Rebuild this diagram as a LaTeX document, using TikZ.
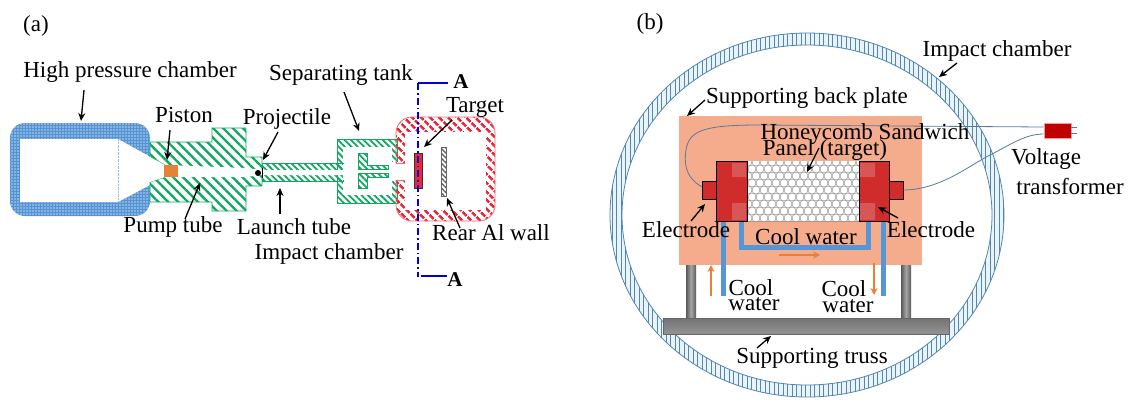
\documentclass[tikz,border=0pt]{standalone}
\usepackage{fontspec}
\setmainfont{Liberation Serif}
\usetikzlibrary{arrows.meta,patterns.meta}
\definecolor{Chamber_blue}{RGB}{84, 148, 212}
\definecolor{Tube_green}{RGB}{16, 168, 96}
\definecolor{Wall_red}{RGB}{236, 40, 56}
\definecolor{Ring_blue}{RGB}{84, 134, 178}
\definecolor{Ring_pale}{RGB}{232, 243, 250}
\definecolor{Plate_salmon}{RGB}{244, 172, 140}
\definecolor{Electrode_red}{RGB}{208, 44, 44}
\definecolor{Pipe_blue}{RGB}{84, 150, 214}
\definecolor{Flow_orange}{RGB}{232, 128, 56}
\definecolor{Wire_slate}{RGB}{88, 122, 160}
\tikzset{
    leader/.style={line width=1.3pt, -{Stealth[length=8pt,width=7pt]}},
    flow/.style={Flow_orange, line width=1.2pt, -{Stealth[length=7pt,width=7pt]}},
    lbl/.style={inner sep=0pt, font=\fontsize{23}{24}\selectfont},
    tube hatch/.style={draw=Tube_green, line width=0.8pt, pattern={Lines[angle=-45,distance=7pt,line width=2.3pt]}, pattern color=Tube_green},
    tank hatch/.style={draw=Tube_green, line width=0.8pt, pattern={Lines[angle=-45,distance=4.5pt,line width=1.8pt]}, pattern color=Tube_green},
    wall hatch/.style={draw=Wall_red!70, line width=0.8pt, pattern={Lines[angle=-45,distance=6.5pt,line width=2.7pt]}, pattern color=Wall_red},
    wire/.style={Wire_slate, line width=0.8pt},
    pipe/.style={Pipe_blue, line width=5pt}
}
\begin{document}
\begin{tikzpicture}[x=1pt,y=-1pt]
    \useasboundingbox (0,0) rectangle (1132,400);

    %% (a) High pressure chamber
    \fill[Chamber_blue, rounded corners=15pt] (10,123) rectangle (150,216);
    \fill[pattern={Dots[distance=3pt,radius=0.8pt]}, pattern color=white!60!Chamber_blue, rounded corners=15pt] (10,123) rectangle (150,216);
    \fill[white] (20,139) -- (118,139) -- (165,165) -- (165,177) -- (118,202) -- (20,202) -- cycle;
    \draw[Chamber_blue!60, densely dotted] (118,139) -- (118,202);

    %% Separating tank
    \draw[tank hatch] (337,139) rectangle (397,203);
    \fill[white] (343,147) rectangle (392,195);
    \fill[white] (391,162) rectangle (398,181);
    \draw[tank hatch] (358,153) -- (367,153) -- (367,165) -- (388,165) -- (388,169) -- (358,169) -- cycle;
    \draw[tank hatch] (358,188) -- (367,188) -- (367,177) -- (388,177) -- (388,173) -- (358,173) -- cycle;

    %% Pump tube and launch tube
    \draw[tube hatch] (150,142) -- (212,142) -- (212,128) -- (246,128) -- (246,157) -- (262,157) -- (262,186) -- (246,186) -- (246,211) -- (212,211) -- (212,202) -- (150,202) -- (150,182) -- (165,177) -- (165,165) -- (150,157) -- cycle;
    \draw[tank hatch] (262,163) rectangle (343,181);
    \fill[white] (150,157) -- (165,165) -- (246,168) -- (262,170) -- (345,170) -- (345,175) -- (262,175) -- (246,177) -- (165,177) -- (150,182) -- cycle;
    \fill[white] (343,164) rectangle (345,180);

    %% Impact chamber
    \draw[wall hatch, rounded corners=16pt] (396,117) rectangle (495,221);
    \fill[white] (405,132) rectangle (486,210);
    \fill[white] (394,163) rectangle (406,180);
    \draw[Wall_red!70, line width=0.8pt] (396,163) -- (405,163) (396,180) -- (405,180);
    \fill[Wall_red] (414,153) rectangle (422,188);
    \draw[black!80, line width=0.8pt] (414,153) rectangle (422,188);
    \draw[black!60, line width=0.6pt, pattern={Lines[angle=-45,distance=3.5pt,line width=1.4pt]}, pattern color=black!60] (441,147) rectangle (446,196);
    \fill[Flow_orange] (164,165) rectangle (178,177);
    \fill (258,173) circle (3pt);
    \draw[thick] (262,168) -- (262,178);

    %% Section line
    \draw[blue!85!black, line width=1.1pt, dash pattern=on 7pt off 3pt on 1.5pt off 3pt] (418,83) -- (418,277);
    \draw[blue!85!black, line width=1.1pt] (418,83) -- (448,83) (421,276) -- (447,276);
    \node[lbl, font=\fontsize{21}{22}\selectfont\bfseries] (sec top) at (461,82) {A};
    \node[lbl, font=\fontsize{21}{22}\selectfont\bfseries] (sec bot) at (455,280) {A};

    %% (b) Impact chamber ring
    \draw[Ring_blue, line width=0.8pt, fill=Ring_pale, even odd rule] (807,215) ellipse [x radius=197, y radius=182] (807,215) ellipse [x radius=185, y radius=170];
    \path[even odd rule, pattern={Lines[angle=90,distance=4.5pt,line width=0.6pt]}, pattern color=Ring_blue] (807,215) ellipse [x radius=197, y radius=182] (807,215) ellipse [x radius=185, y radius=170];

    %% Truss and legs
    \shade[left color=black!65, right color=black!65, middle color=black!35] (686,265) rectangle (696,318);
    \shade[left color=black!65, right color=black!65, middle color=black!35] (901,265) rectangle (911,318);
    \shade[top color=black!55, bottom color=black!42] (663,318) rectangle (949,334);
    \draw[black!60] (663,318) rectangle (949,334);

    %% Back plate
    \fill[Plate_salmon] (679,116) rectangle (922,265);

    %% Pipes
    \draw[pipe] (723,220) -- (723,296);
    \draw[pipe] (883,220) -- (883,296);
    \draw[pipe] (741,220) -- (741,247) -- (868,247) -- (868,220);

    %% Honeycomb
    \fill[white] (747,161) rectangle (859,221);
    \begin{scope}
        \clip (747,161) rectangle (859,221);
        \foreach \i in {0,...,14}
            \foreach \j in {0,...,4}{
                \draw[black!50, line width=0.4pt] ({748+8*\i},{162+14*\j}) circle (4pt);
                \draw[black!50, line width=0.4pt] ({752+8*\i},{169+14*\j}) circle (4pt);
            }
    \end{scope}

    %% Electrodes
    \draw[fill=Electrode_red, line width=0.8pt] (702,181) rectangle (716,199);
    \draw[fill=Electrode_red, line width=0.8pt] (716,161) rectangle (747,221);
    \draw[fill=Electrode_red, line width=0.8pt] (889,181) rectangle (903,199);
    \draw[fill=Electrode_red, line width=0.8pt] (859,161) rectangle (889,221);
    \fill[white, opacity=0.2] (732,163) rectangle (746,177) (732,203) rectangle (746,220);
    \fill[white, opacity=0.2] (860,163) rectangle (875,177) (860,203) rectangle (875,220);

    %% Wires and transformer
    \node[fill=red!75!black, draw=red!40, line width=0.6pt, minimum width=27pt, minimum height=15pt, inner sep=0pt] (transformer) at (1057.5,130.5) {};
    \draw[wire] (702,187) .. controls (690,180) and (683,170) .. (686,150) .. controls (689,130) and (705,125) .. (760,125) -- (900,126) -- (transformer.west |- 0,127);
    \draw[wire] (903,190) .. controls (940,190) and (970,165) .. (990,155) .. controls (1010,145) and (1025,134) .. (transformer.west |- 0,134);
    \draw[wire] (transformer.east |- 0,127) -- ++(6,0) (transformer.east |- 0,133) -- ++(6,0);

    %% Flow arrows
    \coordinate (flow in a) at (711,296);
    \coordinate (flow in b) at (711,265);
    \coordinate (flow mid a) at (779,255);
    \coordinate (flow mid b) at (820,255);
    \coordinate (flow out a) at (874,263);
    \coordinate (flow out b) at (874,295);
    \draw[flow] (flow in a) -- (flow in b);
    \draw[flow] (flow mid a) -- (flow mid b);
    \draw[flow] (flow out a) -- (flow out b);

    %% Labels (a)
    \node[lbl] (label a) at (36,26) {(a)};
    \node[lbl] (pressure label) at (130,72) {High pressure chamber};
    \node[lbl] (piston label) at (184,115) {Piston};
    \node[lbl] (projectile label) at (287,119) {Projectile};
    \node[lbl] (pump label) at (173,227) {Pump tube};
    \node[lbl] (launch label) at (294,227) {Launch tube};
    \node[lbl] (chamber label a) at (329,254) {Impact chamber};
    \node[lbl] (tank label) at (341,75) {Separating tank};
    \node[lbl] (target label) at (475,107) {Target};
    \node[lbl] (wall label) at (491,233) {Rear Al wall};

    %% Labels (b)
    \node[lbl] (label b) at (650,24) {(b)};
    \node[lbl] (chamber label b) at (997,51) {Impact chamber};
    \node[lbl] (plate label) at (807,98) {Supporting back plate};
    \node[lbl] (honeycomb label) at (865,134) {Honeycomb Sandwich};
    \node[lbl] (panel label) at (825,150) {Panel (target)};
    \node[lbl] (electrode left) at (686,230) {Electrode};
    \node[lbl] (electrode right) at (931,230) {Electrode};
    \node[lbl] (water label) at (806,237) {Cool water};
    \node[lbl] (cool left) at (751,288) {Cool};
    \node[lbl] (water left) at (754,304) {water};
    \node[lbl] (cool right) at (844,289) {Cool};
    \node[lbl] (water right) at (848,306) {water};
    \node[lbl] (truss label) at (812,358) {Supporting truss};
    \node[lbl] (voltage label) at (1046,159) {Voltage};
    \node[lbl] (transformer label) at (1070,187) {transformer};

    %% Leaders (a)
    \coordinate (pressure tail) at (84,90);
    \coordinate (pressure tip) at (81,121);
    \coordinate (piston tail) at (170,130);
    \coordinate (piston tip) at (167,160);
    \coordinate (pump tail) at (185,219);
    \coordinate (pump tip) at (200,183);
    \coordinate (projectile tail) at (278,132);
    \coordinate (projectile tip) at (263,160);
    \coordinate (launch tail) at (280,214);
    \coordinate (launch tip) at (280,188);
    \coordinate (tank tail) at (344,92);
    \coordinate (tank tip) at (359,131);
    \coordinate (target tail) at (452,120);
    \coordinate (target tip) at (424,147);
    \coordinate (wall tail) at (460,228);
    \coordinate (wall tip) at (447,198);
    \draw[leader] (pressure tail) -- (pressure tip);
    \draw[leader] (piston tail) -- (piston tip);
    \draw[leader] (pump tail) -- (pump tip);
    \draw[leader] (projectile tail) -- (projectile tip);
    \draw[leader] (launch tail) -- (launch tip);
    \draw[leader] (tank tail) -- (tank tip);
    \draw[leader] (target tail) -- (target tip);
    \draw[leader] (wall tail) -- (wall tip);

    %% Leaders (b)
    \coordinate (ring tail) at (957,63);
    \coordinate (ring tip) at (939,77);
    \coordinate (plate tail) at (705,100);
    \coordinate (plate tip) at (687,116);
    \coordinate (panel tail) at (819,148);
    \coordinate (panel tip) at (807,172);
    \coordinate (left tail) at (691,221);
    \coordinate (left tip) at (705,204);
    \coordinate (right tail) at (898,218);
    \coordinate (right tip) at (878,207);
    \coordinate (truss tail) at (757,348);
    \coordinate (truss tip) at (771,336);
    \draw[leader] (ring tail) -- (ring tip);
    \draw[leader] (plate tail) -- (plate tip);
    \draw[leader] (panel tail) -- (panel tip);
    \draw[leader] (left tail) -- (left tip);
    \draw[leader] (right tail) -- (right tip);
    \draw[leader] (truss tail) -- (truss tip);
\end{tikzpicture}
\end{document}
